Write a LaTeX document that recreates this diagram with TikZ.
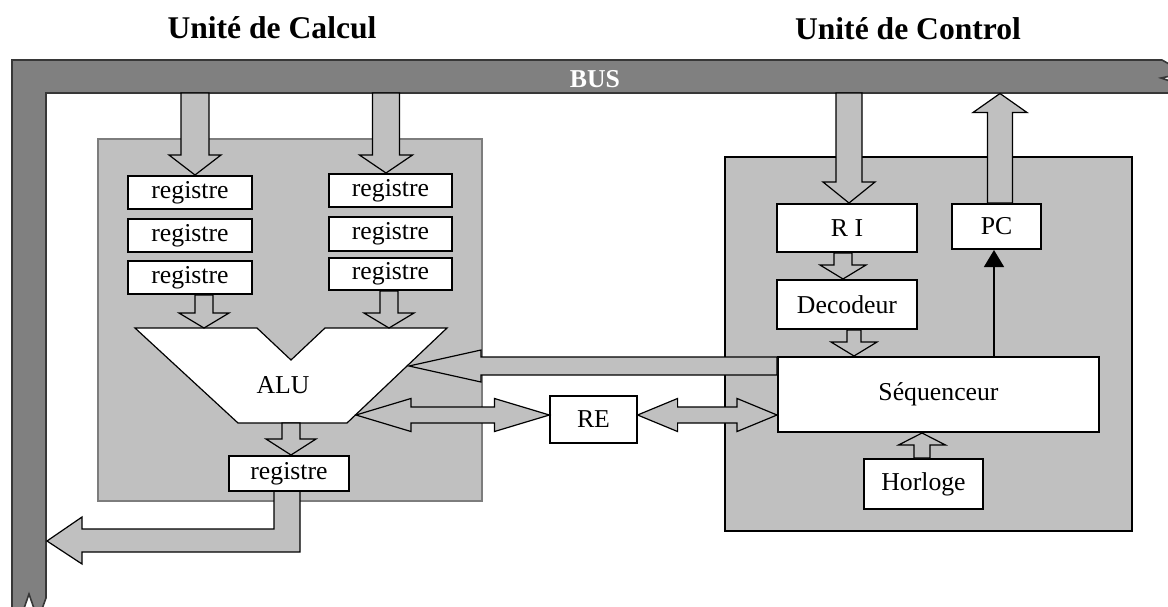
\documentclass[tikz,border=0pt]{standalone}
\usepackage{fontspec}
\setmainfont{Liberation Serif}
\usetikzlibrary{calc,arrows.meta}
\definecolor{lgray}{RGB}{192,192,192}
\definecolor{busgray}{RGB}{128,128,128}
\definecolor{busedge}{RGB}{55,55,55}
\definecolor{boxedge}{RGB}{125,125,125}
\newcommand\boxfont{\fontsize{19.3}{22}\selectfont}
\newcommand\titlefont{\fontsize{23.7}{28}\selectfont\bfseries}
% vertical block arrow: from, tip, head length, shaft half, head half
\newcommand{\vblock}[5]{%
  \draw[blockarrow] let \p1=(#1), \p2=(#2), \n1={sign(\y1-\y2)} in
    ({\x2-#4},{\y1}) -- ({\x2-#4},{\y2+(\n1)*(#3)}) -- ({\x2-#5},{\y2+(\n1)*(#3)}) -- (\x2,\y2)
    -- ({\x2+#5},{\y2+(\n1)*(#3)}) -- ({\x2+#4},{\y2+(\n1)*(#3)}) -- ({\x2+#4},{\y1}) -- cycle;}
% horizontal double block arrow: left tip, right tip, head length, shaft half, head half
\newcommand{\hdouble}[5]{%
  \draw[blockarrow] let \p1=(#1), \p2=(#2) in
    (\x1,\y1) -- ({\x1+#3},{\y1+#5}) -- ({\x1+#3},{\y1+#4}) -- ({\x2-#3},{\y1+#4})
    -- ({\x2-#3},{\y1+#5}) -- (\x2,\y1) -- ({\x2-#3},{\y1-#5}) -- ({\x2-#3},{\y1-#4})
    -- ({\x1+#3},{\y1-#4}) -- ({\x1+#3},{\y1-#5}) -- cycle;}
\tikzset{
  regbox/.style={draw=black, fill=white, line width=1.5pt, inner sep=0pt, font=\boxfont},
  thinbox/.style={draw=black, fill=white, line width=0.9pt, inner sep=0pt, font=\boxfont},
  blockarrow/.style={draw=black, fill=lgray, line width=0.9pt, line join=miter},
  titletext/.style={font=\titlefont, inner sep=0pt, anchor=base},
  unitbox/.style={fill=lgray, inner sep=0pt},
  busshape/.style={fill=busgray, draw=busedge, line width=1.2pt, line join=miter},
}
\begin{document}
\begin{tikzpicture}[x=0.75pt,y=-0.75pt]
\useasboundingbox (0,0) rectangle (1168,607);
\clip (0,0) rectangle (1168,607);

% titles
\node[titletext] (tcalc) at (272,38) {Unité de Calcul};
\node[titletext] (tctrl) at (908,39) {Unité de Control};

% bus
\draw[busshape] (12,620) -- (12,60) -- (1162,60) -- (1185,73) -- (1161,78) -- (1185,86) -- (1185,93)
  -- (46,93) -- (46,598) -- (38,620) -- (29,594) -- (20,620) -- cycle;
\node[font=\fontsize{19.3}{22}\selectfont\bfseries, text=white, inner sep=0pt, anchor=base] (bus) at (595,87) {BUS};

% unit boxes
\node[unitbox, draw=boxedge, line width=1.1pt, minimum width=288pt, minimum height=271.5pt] (ucalc) at (290,320) {};
\node[unitbox, draw=black, line width=1.9pt, minimum width=305.25pt, minimum height=280.5pt] (uctrl) at (928.5,344) {};

% ALU
\draw[fill=white, draw=black, line width=0.9pt, line join=miter]
  (135,328) -- (257,328) -- (291,360) -- (325,328) -- (447,328) -- (347,423) -- (238,423) -- cycle;
\node[font=\boxfont, inner sep=0pt] (alu) at (283,385) {ALU};

% registers
\node[regbox, minimum width=93pt, minimum height=24.75pt] (l1) at (190,192.5) {registre};
\node[regbox, minimum width=93pt, minimum height=24.75pt] (l2) at (190,235.5) {registre};
\node[regbox, minimum width=93pt, minimum height=24.75pt] (l3) at (190,277.5) {registre};
\node[regbox, minimum width=92.25pt, minimum height=24.75pt] (r1) at (390.5,190.5) {registre};
\node[regbox, minimum width=92.25pt, minimum height=25.5pt] (r2) at (390.5,234) {registre};
\node[regbox, minimum width=92.25pt, minimum height=24pt] (r3) at (390.5,274) {registre};
\node[regbox, minimum width=90pt, minimum height=26.25pt] (rb) at (289,473.5) {registre};

% control unit boxes
\node[regbox, minimum width=105pt, minimum height=36pt] (ri) at (847,228) {R I};
\node[regbox, minimum width=66.75pt, minimum height=33.75pt] (pc) at (996.5,226.5) {PC};
\node[regbox, minimum width=105pt, minimum height=36.75pt] (dec) at (847,304.5) {Decodeur};
\node[regbox, minimum width=240.75pt, minimum height=56.25pt] (seq) at (938.5,394.5) {Séquenceur};
\node[regbox, minimum width=89.25pt, minimum height=37.5pt] (hor) at (923.5,484) {Horloge};
\node[thinbox, minimum width=65.25pt, minimum height=35.25pt] (re) at (593.5,419.5) {RE};

% helper coordinates
\coordinate (ba) at (195,93);
\coordinate (bb) at (386,93);
\coordinate (bc) at (849,93);
\coordinate (bd) at (1000,93.5);
\coordinate (a1) at (204,328);
\coordinate (a2) at (389,328);
\coordinate (a3) at (291,423);
\coordinate (a4) at (843,0);
\coordinate (a5) at (854,0);
\coordinate (a6) at (922,0);
\coordinate (tt) at (994,0);
\coordinate (aluR) at (356,415);
\coordinate (aluT) at (409,367);
\coordinate (sq1) at ($(seq.north west)+(0,10)$);

% block arrows
\vblock{ba}{l1.north -| ba}{15pt}{10.5pt}{19.5pt}
\vblock{bb}{r1.north -| bb}{13.5pt}{10.1pt}{19.9pt}
\vblock{l3.south -| a1}{a1}{11.25pt}{6.75pt}{18.75pt}
\vblock{r3.south -| a2}{a2}{11.25pt}{6.75pt}{18.75pt}
\vblock{a3}{rb.north -| a3}{12pt}{6.75pt}{18.75pt}
\vblock{bc}{ri.north -| bc}{15.75pt}{9.75pt}{19.5pt}
\vblock{pc.north -| bd}{bd}{14.25pt}{9.4pt}{20.25pt}
\vblock{ri.south -| a4}{dec.north -| a4}{10.5pt}{6.75pt}{17.25pt}
\vblock{dec.south -| a5}{seq.north -| a5}{10.5pt}{5.25pt}{17.25pt}
\vblock{hor.north -| a6}{seq.south -| a6}{9pt}{6pt}{17.6pt}

% sequenceur -> ALU
\draw[blockarrow] let \p1=(sq1), \p2=(aluT) in
  (\x1,{\y1+6.75pt}) -- ({\x2+54pt},{\y1+6.75pt}) -- ({\x2+54pt},{\y1+12pt}) -- (\x2,\y1)
  -- ({\x2+54pt},{\y1-12pt}) -- ({\x2+54pt},{\y1-6.75pt}) -- (\x1,{\y1-6.75pt}) -- cycle;

% double arrows
\hdouble{aluR}{re.west |- aluR}{41.25pt}{6pt}{12.4pt}
\hdouble{re.east |- aluR}{seq.west |- aluR}{30pt}{6pt}{12.4pt}

% output register -> bus
\draw[blockarrow] (rb.south -| 274,0) -- (274,529) -- (82,529) -- (82,517) -- (47,541)
  -- (82,564) -- (82,552) -- (300,552) -- (rb.south -| 300,0);

% sequenceur -> PC
\draw[line width=1.1pt, -{Triangle[length=12.75pt,width=15pt]}] (seq.north -| tt) -- (pc.south -| tt);
\end{tikzpicture}
\end{document}
